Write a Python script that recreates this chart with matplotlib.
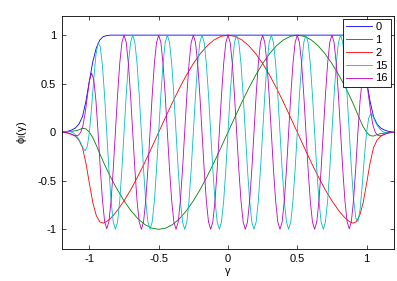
import numpy as np
import matplotlib
matplotlib.use("Agg")
import matplotlib.pyplot as plt

plt.rcParams["font.family"] = ["Liberation Sans", "DejaVu Sans"]
plt.rcParams["axes.unicode_minus"] = False

# basis functions phi_l(gamma)
LABELS = ["0", "1", "2", "15", "16"]
COLORS = [(0, 0, 1), (0, 0.5, 0), (1, 0, 0), (0, 0.75, 0.75), (0.75, 0, 0.75)]

gamma_slow = [
    -1.2, -1.175, -1.15, -1.125, -1.1, -1.075, -1.05, -1.025, -1.0,
    -0.975, -0.95, -0.925, -0.9, -0.875, -0.85, -0.825, -0.8,
    -0.75, -0.7, -0.65, -0.6, -0.55, -0.5, -0.45, -0.4, -0.35, -0.3,
    -0.25, -0.2, -0.15, -0.1, -0.05, 0.0, 0.05, 0.1, 0.15, 0.2, 0.25,
    0.3, 0.35, 0.4, 0.45, 0.5, 0.55, 0.6, 0.65, 0.7, 0.75,
    0.8, 0.825, 0.85, 0.875, 0.9, 0.925, 0.95, 0.975, 1.0,
    1.025, 1.05, 1.075, 1.1, 1.125, 1.15, 1.175, 1.2,
]

phi0 = [
    0.0, 0.005, 0.012, 0.025, 0.045, 0.085, 0.16, 0.32, 0.53,
    0.73, 0.87, 0.95, 0.985, 0.995, 1.0, 1.0, 1.0,
    1.0, 1.0, 1.0, 1.0, 1.0, 1.0, 1.0, 1.0, 1.0, 1.0,
    1.0, 1.0, 1.0, 1.0, 1.0, 1.0, 1.0, 1.0, 1.0, 1.0, 1.0,
    1.0, 1.0, 1.0, 1.0, 1.0, 1.0, 1.0, 1.0, 1.0, 1.0,
    1.0, 1.0, 1.0, 0.995, 0.985, 0.95, 0.87, 0.73, 0.53,
    0.32, 0.16, 0.085, 0.045, 0.025, 0.012, 0.005, 0.0,
]

phi1 = [
    0.0, 0.003, 0.005, 0.01, 0.015, 0.025, 0.04, 0.035, 0.0,
    -0.057, -0.136, -0.221, -0.304, -0.381, -0.454, -0.522, -0.588,
    -0.707, -0.809, -0.891, -0.951, -0.988, -1.0, -0.988, -0.951, -0.891, -0.809,
    -0.707, -0.588, -0.454, -0.309, -0.156, 0.0, 0.156, 0.309, 0.454, 0.588, 0.707,
    0.809, 0.891, 0.951, 0.988, 1.0, 0.988, 0.951, 0.891, 0.809, 0.707,
    0.588, 0.522, 0.454, 0.381, 0.304, 0.221, 0.136, 0.057, 0.0,
    -0.035, -0.04, -0.025, -0.015, -0.01, -0.005, -0.003, 0.0,
]

phi2 = [
    0.0, -0.004, -0.011, -0.023, -0.043, -0.083, -0.158, -0.319, -0.53,
    -0.728, -0.86, -0.923, -0.937, -0.919, -0.891, -0.853, -0.809,
    -0.707, -0.588, -0.454, -0.309, -0.156, 0.0, 0.156, 0.309, 0.454, 0.588,
    0.707, 0.809, 0.891, 0.951, 0.988, 1.0, 0.988, 0.951, 0.891, 0.809, 0.707,
    0.588, 0.454, 0.309, 0.156, 0.0, -0.156, -0.309, -0.454, -0.588, -0.707,
    -0.809, -0.853, -0.891, -0.919, -0.937, -0.923, -0.86, -0.728, -0.53,
    -0.319, -0.158, -0.083, -0.043, -0.023, -0.011, -0.004, 0.0,
]

# fast oscillating pair sampled every 1/64 from -77/64 to 77/64
gamma_fast = np.arange(-77, 78) / 64.0

phi15 = [
    0.0, 0.003, 0.006, 0.007, 0.006, 0.0, -0.014, -0.037, -0.069, -0.11, -0.162, -0.191,
    -0.149, 0.0, 0.253, 0.544, 0.795, 0.92, 0.882, 0.691, 0.379, 0.0, -0.382, -0.707,
    -0.924, -1.0, -0.924, -0.707, -0.383,
    0.0, 0.383, 0.707, 0.924, 1.0, 0.924, 0.707, 0.383, 0.0, -0.383, -0.707, -0.924, -1.0, -0.924, -0.707, -0.383,
    0.0, 0.383, 0.707, 0.924, 1.0, 0.924, 0.707, 0.383, 0.0, -0.383, -0.707, -0.924, -1.0, -0.924, -0.707, -0.383,
    0.0, 0.383, 0.707, 0.924, 1.0, 0.924, 0.707, 0.383, 0.0, -0.383, -0.707, -0.924, -1.0, -0.924, -0.707, -0.383,
    0.0, 0.383, 0.707, 0.924, 1.0, 0.924, 0.707, 0.383, 0.0, -0.383, -0.707, -0.924, -1.0, -0.924, -0.707, -0.383,
    0.0, 0.383, 0.707, 0.924, 1.0, 0.924, 0.707, 0.383, 0.0, -0.383, -0.707, -0.924, -1.0, -0.924, -0.707, -0.383,
    0.0, 0.383, 0.707, 0.924, 1.0, 0.924, 0.707, 0.383, 0.0, -0.383, -0.707, -0.924, -1.0, -0.924, -0.707, -0.383,
    0.0, 0.383, 0.707, 0.924, 1.0, 0.924,
    0.707, 0.382, 0.0, -0.379, -0.691, -0.882, -0.92, -0.795, -0.544, -0.253, 0.0, 0.149,
    0.191, 0.162, 0.11, 0.069, 0.037, 0.014, 0.0, -0.006, -0.007, -0.006, -0.003, 0.0,
]

phi16 = [
    0.0, 0.0, -0.002, -0.007, -0.015, -0.025, -0.034, -0.037, -0.029, 0.0, 0.067, 0.191,
    0.36, 0.53, 0.61, 0.544, 0.329, 0.0, -0.366, -0.691, -0.915, -0.995, -0.922, -0.707,
    -0.383, 0.0, 0.383, 0.707, 0.924,
    1.0, 0.924, 0.707, 0.383, 0.0, -0.383, -0.707, -0.924, -1.0, -0.924, -0.707, -0.383, 0.0, 0.383, 0.707, 0.924,
    1.0, 0.924, 0.707, 0.383, 0.0, -0.383, -0.707, -0.924, -1.0, -0.924, -0.707, -0.383, 0.0, 0.383, 0.707, 0.924,
    1.0, 0.924, 0.707, 0.383, 0.0, -0.383, -0.707, -0.924, -1.0, -0.924, -0.707, -0.383, 0.0, 0.383, 0.707, 0.924,
    1.0, 0.924, 0.707, 0.383, 0.0, -0.383, -0.707, -0.924, -1.0, -0.924, -0.707, -0.383, 0.0, 0.383, 0.707, 0.924,
    1.0, 0.924, 0.707, 0.383, 0.0, -0.383, -0.707, -0.924, -1.0, -0.924, -0.707, -0.383, 0.0, 0.383, 0.707, 0.924,
    1.0, 0.924, 0.707, 0.383, 0.0, -0.383, -0.707, -0.924, -1.0, -0.924, -0.707, -0.383, 0.0, 0.383, 0.707, 0.924,
    1.0, 0.924, 0.707, 0.383, 0.0, -0.383,
    -0.707, -0.922, -0.995, -0.915, -0.691, -0.366, 0.0, 0.329, 0.544, 0.61, 0.53, 0.36,
    0.191, 0.067, 0.0, -0.029, -0.037, -0.034, -0.025, -0.015, -0.007, -0.002, 0.0, 0.0,
]

TICKS = [-1, -0.5, 0, 0.5, 1]
TICK_LABELS = ["-1", "-0.5", "0", "0.5", "1"]

fig = plt.figure(figsize=(3.97, 2.81), dpi=100)
ax = fig.add_axes([0.1554, 0.1149, 0.8378, 0.8292])

series = [(gamma_slow, phi0), (gamma_slow, phi1), (gamma_slow, phi2),
          (gamma_fast, phi15), (gamma_fast, phi16)]
for (g, y), lab, c in zip(series, LABELS, COLORS):
    ax.plot(g, y, color=c, lw=0.6, label=lab)

ax.set_xlim(-1.2, 1.2)
ax.set_ylim(-1.2, 1.2)
ax.set_xticks(TICKS)
ax.set_xticklabels(TICK_LABELS)
ax.set_yticks(TICKS)
ax.set_yticklabels(TICK_LABELS)
ax.tick_params(direction="in", length=3, width=0.5, labelsize=8,
               top=True, right=True, pad=4)
for sp in ax.spines.values():
    sp.set_linewidth(0.6)

ax.set_xlabel("γ", fontsize=8, labelpad=1)
ax.set_ylabel(r"ϕ$_\mathrm{l}$(γ)", fontsize=8, labelpad=6)

leg = ax.legend(loc="upper right", fontsize=8, fancybox=False, framealpha=1,
                edgecolor="black", borderaxespad=0.3, borderpad=0.3,
                labelspacing=0.25, handlelength=2.3, handletextpad=0.3)
leg.get_frame().set_linewidth(0.6)

fig.savefig("out.png", dpi=100)
